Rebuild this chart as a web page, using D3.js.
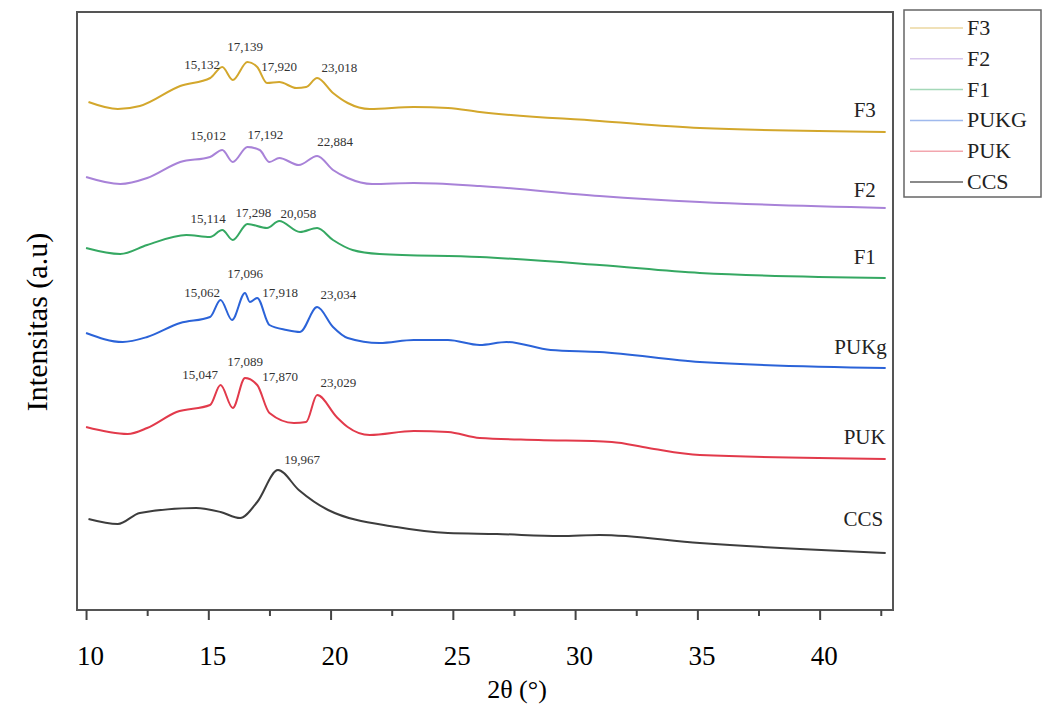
<!DOCTYPE html>
<html>
<head>
<meta charset="utf-8">
<script src="https://cdn.jsdelivr.net/npm/d3@7"></script>
<style>
  body { margin: 0; background: #fff; }
  svg text { font-family: "Liberation Serif", "DejaVu Serif", serif; }
</style>
</head>
<body>
<div id="chart"></div>
<script>
var WIDTH = 1043;
var HEIGHT = 705;

// series names, top to bottom, and their colours
var seriesNames = ['F3', 'F2', 'F1', 'PUKG', 'PUK', 'CCS'];
var curveLabels = ['F3', 'F2', 'F1', 'PUKg', 'PUK', 'CCS'];
var seriesColors = ['#d3a72c', '#a882d8', '#35a862', '#2b63d8', '#e23a4b', '#3d3d3d'];

// [2theta, stacked intensity (a.u.)]
var f3Data = [[10.1,508],[11.3,501],[12.2,504],[13.85,524],[15.08,532],[15.57,543],[16.0,530],
  [16.6,548],[17.0,543],[17.4,527],[17.9,528],[18.6,522],[19.0,523],[19.45,532],[20.1,517],
  [20.7,507],[21.6,501],[23.4,503],[24.8,502],[26.1,498],[31.0,489],[35.1,482],[42.7,478]];
var f2Data = [[10.0,433],[11.4,426],[12.5,432],[13.85,448],[15.07,453],[15.57,460],[16.0,448],
  [16.6,463],[17.1,460],[17.5,448],[17.9,452],[18.7,445],[19.45,454],[20.1,440],[20.7,432],
  [21.7,426],[23.4,427],[26.1,424],[31.0,414],[35.1,408],[42.7,402]];
var f1Data = [[10.0,362],[11.4,356],[12.5,365],[14.1,375],[15.07,373],[15.57,380],[16.0,370],
  [16.6,386],[17.4,382],[17.9,389],[18.75,378],[19.45,382],[20.1,370],[20.9,360],[22.0,356],
  [26.1,353],[31.0,345],[35.1,337],[42.7,332]];
var pukgData = [[10.0,277],[11.5,268],[12.5,273],[13.85,287],[15.07,293],[15.5,310],[15.97,290],
  [16.5,317],[16.7,308],[17.0,312],[17.5,285],[18.2,280],[18.75,278],[19.45,303],[20.1,283],
  [20.7,272],[22.0,267],[23.4,270],[24.8,270],[26.1,265],[27.2,268],[29.0,260],[31.0,258],
  [35.1,248],[42.7,242]];
var pukData = [[10.0,183],[11.7,176],[12.5,182],[13.7,198],[15.07,205],[15.5,225],[16.0,202],
  [16.5,232],[17.0,225],[17.5,197],[18.5,187],[19.0,188],[19.45,215],[20.25,193],[20.7,183],
  [21.6,175],[23.4,179],[24.8,178],[26.1,172],[28.5,170],[31.5,168],[33.0,162],[35.1,155],
  [42.7,151]];
var ccsData = [[10.1,91],[11.3,86],[12.2,97],[14.5,102],[15.5,98],[16.3,92],[17.0,108],
  [17.85,140],[18.7,120],[19.9,100],[22.7,83],[24.8,77],[26.8,76],[29.4,74],[31.0,75],
  [35.1,67],[39.2,61],[42.7,57]];
var seriesData = [f3Data, f2Data, f1Data, pukgData, pukData, ccsData];

// peak annotations: [2theta, intensity, text]
var peakLabels = [
  [14.75,545,'15,132'],[16.51,563,'17,139'],[17.9,543,'17,920'],[20.36,542,'23,018'],
  [14.99,474,'15,012'],[17.33,475,'17,192'],[20.19,468,'22,884'],
  [14.99,391,'15,114'],[16.84,397,'17,298'],[18.68,396,'20,058'],
  [14.75,317,'15,062'],[16.51,336,'17,096'],[17.94,317,'17,918'],[20.32,315,'23,034'],
  [14.67,235,'15,047'],[16.51,248,'17,089'],[17.94,233,'17,870'],[20.32,227,'23,029'],
  [18.84,150,'19,967']
];
// where each curve's name sits on the right
var curveLabelPos = [[42.3,500],[42.3,420],[42.3,353],[42.75,263],[42.7,173],[42.6,91]];

var xTicks = [10, 15, 20, 25, 30, 35, 40];
var xMinorTicks = [12.5, 17.5, 22.5, 27.5, 32.5, 37.5, 42.5];

var margin = {left: 77, top: 12, right: 893, bottom: 610};

var svg = d3.select('#chart').append('svg')
  .attr('width', WIDTH).attr('height', HEIGHT);

var x = d3.scaleLinear().domain([9.63, 43.0]).range([margin.left, margin.right]);
var y = d3.scaleLinear().domain([0, 598]).range([margin.bottom, margin.top]);

var line = d3.line()
  .x(function(d){ return x(d[0]); })
  .y(function(d){ return y(d[1]); })
  .curve(d3.curveMonotoneX);

// curves
svg.selectAll('.curve')
  .data(seriesData)
  .enter().append('path')
  .attr('class', 'curve')
  .attr('d', line)
  .attr('fill', 'none')
  .attr('stroke', function(d, i){ return seriesColors[i]; })
  .attr('stroke-width', 2);

// peak labels
svg.selectAll('.peak')
  .data(peakLabels)
  .enter().append('text')
  .attr('class', 'peak')
  .attr('x', function(d){ return x(d[0]); })
  .attr('y', function(d){ return y(d[1]) + 4; })
  .attr('text-anchor', 'middle')
  .attr('font-size', 13)
  .attr('fill', '#333')
  .text(function(d){ return d[2]; });

// curve names
svg.selectAll('.curve-name')
  .data(curveLabels)
  .enter().append('text')
  .attr('class', 'curve-name')
  .attr('x', function(d, i){ return x(curveLabelPos[i][0]); })
  .attr('y', function(d, i){ return y(curveLabelPos[i][1]) + 7; })
  .attr('text-anchor', 'end')
  .attr('font-size', 21)
  .attr('fill', '#222')
  .text(function(d){ return d; });

// frame
svg.append('rect')
  .attr('x', margin.left).attr('y', margin.top)
  .attr('width', margin.right - margin.left)
  .attr('height', margin.bottom - margin.top)
  .attr('fill', 'none')
  .attr('stroke', '#555')
  .attr('stroke-width', 2);

// x axis
var xAxis = d3.axisBottom(x).tickValues(xTicks).tickSize(10).tickFormat(d3.format('d'));
var gx = svg.append('g')
  .attr('transform', 'translate(0,' + margin.bottom + ')')
  .call(xAxis);
gx.select('.domain').remove();
gx.selectAll('line').attr('stroke', '#444').attr('stroke-width', 2);
gx.selectAll('text')
  .attr('font-size', 27)
  .attr('font-family', '"Liberation Serif", serif')
  .attr('fill', '#000')
  .attr('dx', 4)
  .attr('dy', '1.55em');

var xMinor = d3.axisBottom(x).tickValues(xMinorTicks).tickSize(6).tickFormat('');
var gxm = svg.append('g')
  .attr('transform', 'translate(0,' + margin.bottom + ')')
  .call(xMinor);
gxm.select('.domain').remove();
gxm.selectAll('line').attr('stroke', '#444').attr('stroke-width', 2);

// axis titles
svg.append('text')
  .attr('x', 517).attr('y', 698)
  .attr('text-anchor', 'middle')
  .attr('font-size', 26)
  .text('2θ (°)');

svg.append('text')
  .attr('transform', 'translate(47,322) rotate(-90)')
  .attr('text-anchor', 'middle')
  .attr('font-size', 30)
  .text('Intensitas (a.u)');

// legend
var legend = svg.append('g').attr('transform', 'translate(904,10)');
legend.append('rect')
  .attr('width', 137).attr('height', 187)
  .attr('fill', '#fff')
  .attr('stroke', '#666')
  .attr('stroke-width', 1.5);

var items = legend.selectAll('.item')
  .data(seriesNames)
  .enter().append('g')
  .attr('class', 'item')
  .attr('transform', function(d, i){ return 'translate(0,' + (18 + i * 30.8) + ')'; });

items.append('line')
  .attr('x1', 6).attr('x2', 59)
  .attr('stroke', function(d, i){ return seriesColors[i]; })
  .attr('stroke-opacity', function(d, i){ return i == 5 ? 0.8 : 0.45; })
  .attr('stroke-width', 1.5);

items.append('text')
  .attr('x', 63).attr('y', 7)
  .attr('font-size', 22)
  .attr('fill', '#222')
  .text(function(d){ return d; });
</script>
</body>
</html>
